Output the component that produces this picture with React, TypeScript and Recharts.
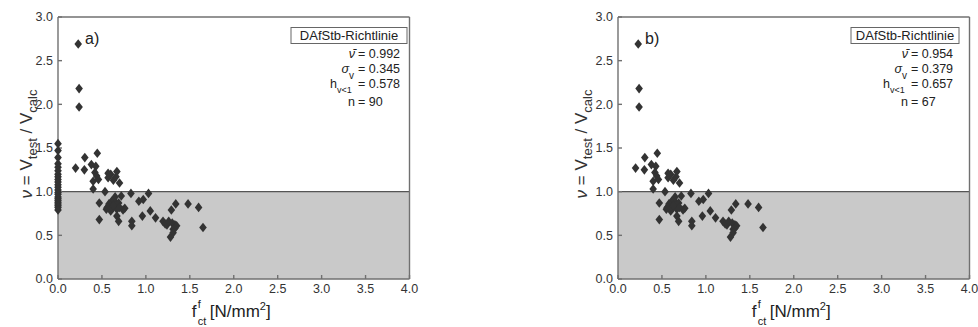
import React from 'react';
import { ScatterChart, Scatter, XAxis, YAxis, ReferenceArea, ReferenceLine } from 'recharts';

const xTicks = [0, 0.5, 1.0, 1.5, 2.0, 2.5, 3.0, 3.5, 4.0];
const yTicks = [0, 0.5, 1.0, 1.5, 2.0, 2.5, 3.0];

// tests with fct^f > 0 (panel b, n = 67)
const fctB = [
  0.23, 0.24, 0.24, 0.2, 0.305, 0.3, 0.447, 0.38, 0.43, 0.42,
  0.44, 0.4, 0.46, 0.4, 0.57, 0.6, 0.57, 0.67, 0.63, 0.7,
  0.66, 0.535, 0.47, 0.47, 0.55, 0.61, 0.65, 0.66, 0.62, 0.67,
  0.58, 0.6, 0.64, 0.69, 0.72, 0.76, 0.74, 0.83, 0.67, 0.69,
  0.84, 0.84, 0.92, 0.97, 0.96, 1.03, 1.05, 1.11, 1.34, 1.29,
  1.48, 1.6, 1.65, 1.195, 1.24, 1.3, 1.33, 1.35, 1.31, 1.28,
  1.31, 1.22, 1.26, 0.63, 0.7, 0.56, 1.33,
];
const nuB = [
  2.69, 2.18, 1.97, 1.27, 1.39, 1.25, 1.44, 1.31, 1.29, 1.22,
  1.18, 1.12, 1.14, 1.03, 1.21, 1.2, 1.16, 1.23, 1.13, 1.1,
  1.17, 1.0, 0.87, 0.68, 0.8, 0.89, 0.94, 0.85, 0.81, 0.8,
  0.86, 0.78, 0.9, 0.87, 0.95, 0.81, 0.79, 0.98, 0.72, 0.66,
  0.66, 0.61, 0.89, 0.91, 0.72, 0.98, 0.78, 0.7, 0.86, 0.79,
  0.86, 0.82, 0.59, 0.66, 0.62, 0.64, 0.62, 0.61, 0.57, 0.48,
  0.53, 0.63, 0.66, 0.84, 0.82, 0.82, 0.58,
];
// additional tests with fct^f = 0 (panel a only)
const nuZeroA = [
  1.55, 1.47, 1.39, 1.32, 1.28, 1.24, 1.2, 1.17, 1.14, 1.11,
  1.08, 1.05, 1.02, 0.99, 0.97, 0.94, 0.92, 0.9, 0.88, 0.86,
  0.84, 0.82, 0.79,
];

const panelLabels = ['a)', 'b)'];
const meanNu = ['0.992', '0.954'];
const sigmaNu = ['0.345', '0.379'];
const hBelow1 = ['0.578', '0.657'];
const nTests = ['90', '67'];
const guideline = 'DAfStb-Richtlinie';

const dataB = fctB.map((x, i) => ({ x, y: nuB[i] }));
const dataA = [...nuZeroA.map((y) => ({ x: 0, y })), ...dataB];

const FONT = '"Liberation Sans", Arial, Helvetica, sans-serif';
const CW = 489;
const CH = 327;
const PT = 17;
const PB = 279;
const PW = 351.5;
const AX = '#707070';
const TXT = '#333';

const Diamond = (p: any) => {
  const { cx, cy } = p;
  if (cx == null || cy == null) return null;
  return (
    <path
      d={`M${cx},${cy - 4.8}L${cx + 3.8},${cy}L${cx},${cy + 4.8}L${cx - 3.8},${cy}Z`}
      fill="#333"
    />
  );
};

const fmt = (v: number) => v.toFixed(1);

function Panel({ left, plotLeft, data, idx, eqOff, yLabOff, boxW }: any) {
  const plotRight = plotLeft + PW;
  const xAxisH = 30;
  const margin = {
    top: PT - 1,
    bottom: CH - PB - xAxisH,
    left: plotLeft - 40,
    right: CW - plotRight - 1,
  };
  const c = (plotLeft + plotRight) / 2;
  const xEq = plotLeft + eqOff;
  const boxL = plotLeft + 233;
  const tickStyle = { fill: TXT, fontSize: 12.5, fontFamily: FONT };
  const lineStyle = { stroke: AX, strokeWidth: 1.4 };
  return (
    <div style={{ position: 'absolute', left, top: 0, width: CW, height: CH }}>
      <ScatterChart width={CW} height={CH} margin={margin}>
        <ReferenceArea xAxisId="b" yAxisId="l" x1={0} x2={4} y1={0} y2={1} fill="#c9c9c9" fillOpacity={1} stroke="none" />
        <ReferenceLine xAxisId="b" yAxisId="l" y={1} stroke="#555" strokeWidth={1.3} />
        <XAxis
          xAxisId="b" type="number" dataKey="x" domain={[0, 4]} ticks={xTicks} interval={0}
          tickFormatter={fmt} height={xAxisH} tickSize={-4} tickMargin={9}
          stroke={TXT} axisLine={lineStyle} tickLine={lineStyle} tick={tickStyle}
        />
        <XAxis
          xAxisId="t" orientation="top" type="number" dataKey="x" domain={[0, 4]} ticks={xTicks} interval={0}
          height={1} tickSize={-4} stroke={AX} axisLine={lineStyle} tickLine={lineStyle} tick={false}
        />
        <YAxis
          yAxisId="l" type="number" dataKey="y" domain={[0, 3]} ticks={yTicks} interval={0}
          tickFormatter={fmt} width={40} tickSize={-4} tickMargin={9}
          stroke={TXT} axisLine={lineStyle} tickLine={lineStyle} tick={tickStyle}
        />
        <YAxis
          yAxisId="r" orientation="right" type="number" dataKey="y" domain={[0, 3]} ticks={yTicks} interval={0}
          width={1} tickSize={-4} stroke={AX} axisLine={lineStyle} tickLine={lineStyle} tick={false}
        />
        <Scatter xAxisId="b" yAxisId="l" data={data} shape={Diamond} isAnimationActive={false} />
      </ScatterChart>
      <svg
        width={CW}
        height={CH}
        style={{ position: 'absolute', left: 0, top: 0, pointerEvents: 'none' }}
      >
        <g fontFamily={FONT} fill="#222">
          <text x={plotLeft + 27} y={44} fontSize={16}>{panelLabels[idx]}</text>
          <rect x={boxL} y={27.5} width={boxW} height={16} fill="#fff" stroke="#666" strokeWidth={1} />
          <text x={boxL + boxW / 2} y={40} fontSize={13} textAnchor="middle">{guideline}</text>

          <text x={xEq - 3} y={58} fontSize={12.5} textAnchor="end" fontStyle="italic">ν̄</text>
          <text x={xEq} y={58} fontSize={12.5}>= {meanNu[idx]}</text>

          <text x={xEq - 9} y={73} fontSize={12.5} textAnchor="end" fontStyle="italic">σ</text>
          <text x={xEq - 9} y={79} fontSize={10}>v</text>
          <text x={xEq} y={73} fontSize={12.5}>= {sigmaNu[idx]}</text>

          <text x={xEq - 21} y={87.5} fontSize={12.5} textAnchor="end">h</text>
          <text x={xEq - 21} y={92.5} fontSize={9}>v&lt;1</text>
          <text x={xEq} y={87.5} fontSize={12.5}>= {hBelow1[idx]}</text>

          <text x={xEq - 3} y={105.5} fontSize={12.5} textAnchor="end">n</text>
          <text x={xEq} y={105.5} fontSize={12.5}>= {nTests[idx]}</text>

          {/* x axis label */}
          <text x={c - 42} y={317} fontSize={17}>f</text>
          <text x={c - 36} y={308} fontSize={11}>f</text>
          <text x={c - 36} y={325} fontSize={11}>ct</text>
          <text x={c - 24} y={317} fontSize={17}>
            [N/mm<tspan dy={-7} fontSize={11}>2</tspan><tspan dy={7}>]</tspan>
          </text>

          {/* y axis label */}
          <g transform={`translate(${plotLeft - yLabOff}, ${(PT + PB) / 2 - 4}) rotate(-90)`}>
            <text x={0} y={0} fontSize={17} textAnchor="middle" fill="#333">
              <tspan fontStyle="italic">ν</tspan> = V<tspan dy={5} fontSize={13}>test</tspan>
              <tspan dy={-5}> / V</tspan><tspan dy={5} fontSize={13}>calc</tspan>
            </text>
          </g>
        </g>
      </svg>
    </div>
  );
}

export default function App() {
  return (
    <div style={{ position: 'absolute', left: 0, top: 0, width: 978, height: 327, background: '#fff' }}>
      <Panel left={0} plotLeft={58} data={dataA} idx={0} eqOff={300} yLabOff={26} boxW={116} />
      <Panel left={489} plotLeft={129} data={dataB} idx={1} eqOff={293} yLabOff={31} boxW={108} />
    </div>
  );
}
